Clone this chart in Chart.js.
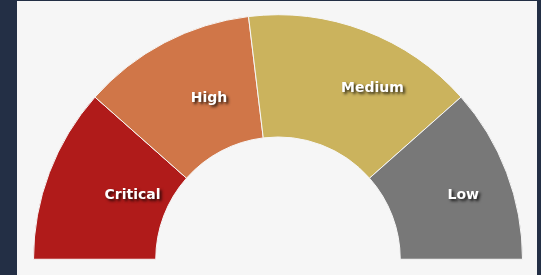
<!DOCTYPE html>
<html>
<head>
<meta charset="utf-8">
<script src="https://cdn.jsdelivr.net/npm/chart.js@4.4.0/dist/chart.umd.min.js"></script>
<style>
    html, body { margin: 0; padding: 0; overflow: hidden; }
    body { width: 541px; height: 275px; background: #232f45; position: relative; }
    #panel { position: absolute; left: 17px; right: 4px; top: 1px; bottom: 0; background: #f6f6f6; }
    #riskChart { position: absolute; left: 16px; top: 13px; }
</style>
</head>
<body>
<div id="panel">
    <canvas id="riskChart" width="490" height="246"></canvas>
</div>
<script>
// severity buckets, left to right
const severities = ["Critical", "High", "Medium", "Low"];
const counts = [3, 3, 4, 3];
const sliceColors = ["#b01b1a", "#d07648", "#cbb35d", "#787878"];

// draws the white names inside each slice, like the old chart did
const sliceNames = {
    id: 'sliceNames',
    afterDatasetsDraw (chart) {
        let ctx = chart.ctx;
        let arcs = chart.getDatasetMeta(0).data;
        ctx.save();
        ctx.font = 'bold 14px "DejaVu Sans", Verdana, sans-serif';
        ctx.textAlign = 'left';
        ctx.textBaseline = 'middle';
        ctx.fillStyle = '#ffffff';
        ctx.shadowColor = 'rgba(0,0,0,0.8)';
        ctx.shadowOffsetX = 2;
        ctx.shadowOffsetY = 2;
        ctx.shadowBlur = 3;
        arcs.forEach((arc, i) => {
            let p = arc.getProps(['x', 'y', 'startAngle', 'endAngle', 'innerRadius', 'outerRadius'], true);
            let mid = (p.startAngle + p.endAngle) / 2;
            let r = (p.innerRadius + p.outerRadius) / 2;
            ctx.fillText(chart.data.labels[i], p.x + Math.cos(mid) * r - 2, p.y + Math.sin(mid) * r + 1);
        });
        ctx.restore();
    }
};

let ctx = document.getElementById('riskChart');
var chartData = {
    labels: severities,
    datasets: [
        {
            data: counts,
            backgroundColor: sliceColors,
            hoverBackgroundColor: sliceColors,
            borderColor: "#f6f6f6",
            borderWidth: 1
        }]
};
var riskChart = new Chart(ctx, {
    type: 'doughnut',
    data: chartData,
    options: {
        responsive: false,
        animation: false,
        rotation: -90,
        circumference: 180,
        cutout: '50%',
        layout: { padding: 0 },
        plugins: {
            legend: { display: false },
            tooltip: { enabled: false }
        }
    },
    plugins: [sliceNames]
});
</script>
</body>
</html>
